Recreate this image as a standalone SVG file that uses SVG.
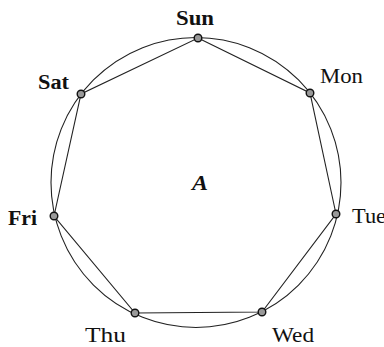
<svg xmlns="http://www.w3.org/2000/svg" width="384" height="347" viewBox="0 0 384 347">
<style>
.c{fill:none;stroke:#222;stroke-width:1.1}
.e{fill:none;stroke:#222;stroke-width:1.1}
.v{fill:#999;stroke:#111;stroke-width:1.4}
text{font-family:"Liberation Serif","Times New Roman",serif;font-size:20px;fill:#111}
</style>
<rect width="384" height="347" fill="#fff"/>
<g id="connectors">
<circle class="c" cx="196" cy="182.5" r="145"/>
<polygon class="e" points="198,38 310,93 336,214 262,312 135,313 54,216 81,94"/>
</g>
<g id="Sun"><circle class="v" cx="198" cy="38" r="3.8"/><text x="176" y="25" textLength="38" lengthAdjust="spacingAndGlyphs" font-weight="bold">Sun</text></g>
<g id="Mon"><circle class="v" cx="310" cy="93" r="3.8"/><text x="320" y="83" textLength="43" lengthAdjust="spacingAndGlyphs">Mon</text></g>
<g id="Tue"><circle class="v" cx="336" cy="214" r="3.8"/><text x="352" y="223" textLength="34" lengthAdjust="spacingAndGlyphs">Tue</text></g>
<g id="Wed"><circle class="v" cx="262" cy="312" r="3.8"/><text x="272" y="342" textLength="42" lengthAdjust="spacingAndGlyphs">Wed</text></g>
<g id="Thu"><circle class="v" cx="135" cy="313" r="3.8"/><text x="85" y="342" textLength="41" lengthAdjust="spacingAndGlyphs">Thu</text></g>
<g id="Fri"><circle class="v" cx="54" cy="216" r="3.8"/><text x="8" y="225" textLength="29" lengthAdjust="spacingAndGlyphs" font-weight="bold">Fri</text></g>
<g id="Sat"><circle class="v" cx="81" cy="94" r="3.8"/><text x="38" y="89" textLength="31" lengthAdjust="spacingAndGlyphs" font-weight="bold">Sat</text></g>
<g id="A"><text x="192" y="190" textLength="16" lengthAdjust="spacingAndGlyphs" font-style="italic" font-weight="bold">A</text></g>
</svg>
